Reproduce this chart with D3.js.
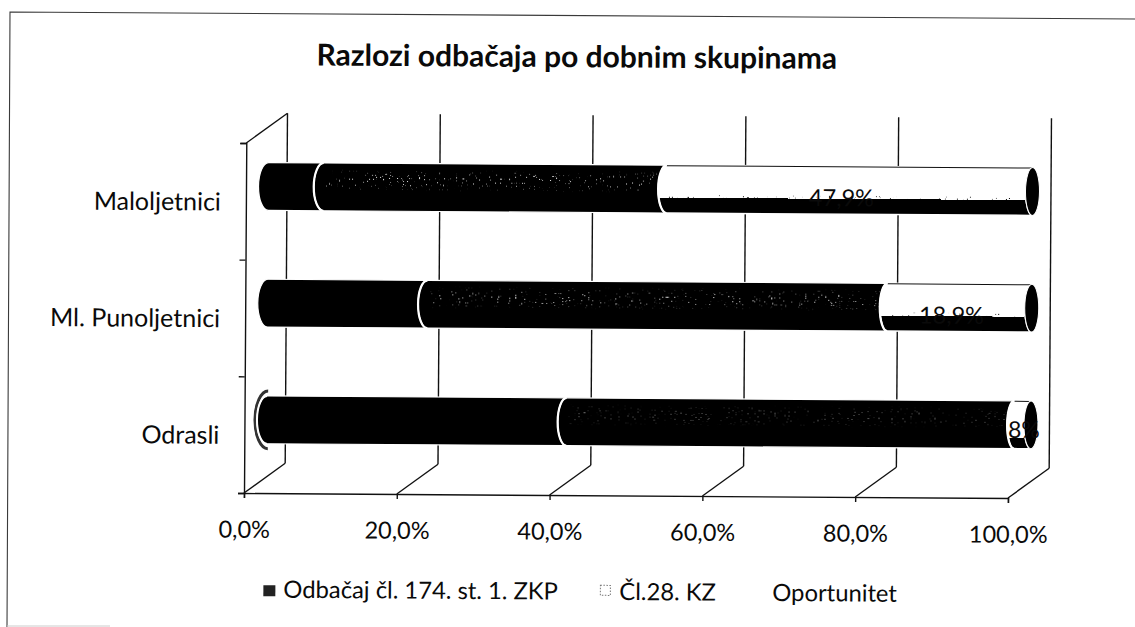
<!DOCTYPE html>
<html><head><meta charset="utf-8">
<script src="https://cdn.jsdelivr.net/npm/d3@7"></script>
<style>html,body{margin:0;background:#fff}svg{display:block}text{font-family:Lato,sans-serif;fill:#0a0a0a}</style>
</head><body><svg id="c" width="1135" height="627"></svg>
<script>
const title = "Razlozi odbačaja po dobnim skupinama";
const categories = ["Odrasli", "Ml. Punoljetnici", "Maloljetnici"];
const seriesNames = ["Odbačaj čl. 174. st. 1. ZKP", "Čl.28. KZ", "Oportunitet"];
const odbacaj = [0.392, 0.209, 0.072];
const cl28 = [0.586, 0.602, 0.449];
const oportunitet = [0.022, 0.189, 0.479];
const barLabels = ["8%", "18,9%", "47,9%"];
const xTicks = [0, 0.2, 0.4, 0.6, 0.8, 1];

const svg = d3.select("#c");
const defs = svg.append("defs");
const f = defs.append("filter").attr("id", "speck").attr("x", 0).attr("y", 0).attr("width", 1).attr("height", 1);
f.append("feTurbulence").attr("type", "fractalNoise").attr("baseFrequency", 0.7).attr("numOctaves", 2).attr("seed", 4).attr("result", "n");
f.append("feColorMatrix").attr("in", "n").attr("type", "matrix")
  .attr("values", "0 0 0 0 0  0 0 0 0 0  0 0 0 0 0  18 0 0 0 -12.6").attr("result", "m");
f.append("feComposite").attr("in", "SourceGraphic").attr("in2", "m").attr("operator", "in");
const sg = defs.append("linearGradient").attr("id", "band").attr("x1", 0).attr("x2", 0).attr("y1", 0).attr("y2", 1);
[[0, 0], [0.35, 1], [0.65, 1], [1, 0]].forEach(d => sg.append("stop").attr("offset", d[0]).attr("stop-color", "#fff").attr("stop-opacity", d[1]));
[["tube", 0.68], ["tubeShort", 0.78]].forEach(t => {
  const wb = defs.append("linearGradient").attr("id", t[0]).attr("x1", 0).attr("x2", 0).attr("y1", 0).attr("y2", 1);
  [[0, "#fff"], [t[1], "#fff"], [t[1], "#000"], [1, "#000"]].forEach(d => wb.append("stop").attr("offset", d[0]).attr("stop-color", d[1]));
});

// scan frame
svg.append("path").attr("d", "M7,627 L10,12 L1135,19").attr("fill", "none").attr("stroke", "#3a3a3a").attr("stroke-width", 1.1);
svg.append("path").attr("d", "M7,626 H110").attr("stroke", "#ccc").attr("stroke-width", 1);

// everything tilted slightly, as in the scan
const g = svg.append("g").attr("transform", "rotate(0.375,244,493)");

const depthX = 41, depthY = -30;
const x = d3.scaleLinear().domain([0, 1]).range([244, 1008]);
const yAxisScale = d3.scalePoint().domain([0, 1, 2, 3]).range([493, 143]);
const midX = v => x(v) + depthX / 2 + 2;
const band = d3.scaleBand().domain(categories).range([493 + depthY / 2, 143 + depthY / 2]);
const barH = band.bandwidth() * 0.41;
const rx = d3.scaleLinear().domain([0, 1]).range([10, 7]);

// back walls
g.append("g").selectAll("line").data(xTicks).join("line")
  .attr("x1", d => x(d) + depthX).attr("x2", d => x(d) + depthX)
  .attr("y1", 493 + depthY).attr("y2", 143 + depthY).attr("stroke", "#111").attr("stroke-width", 1.4);
g.append("g").selectAll("line").data(xTicks).join("line")
  .attr("x1", d => x(d)).attr("x2", d => x(d) + depthX)
  .attr("y1", 493).attr("y2", 493 + depthY).attr("stroke", "#111").attr("stroke-width", 1.4);
g.append("line").attr("x1", 244).attr("y1", 143).attr("x2", 244 + depthX).attr("y2", 143 + depthY).attr("stroke", "#111").attr("stroke-width", 1.4);

// axes
const fmt = d3.formatLocale({decimal: ",", thousands: ".", grouping: [3], currency: ["", ""]}).format(".1%");
const ax = g.append("g").attr("transform", "translate(0,493)")
  .call(d3.axisBottom(x).tickValues(xTicks).tickFormat(fmt).tickSize(5).tickPadding(23));
ax.selectAll("path,line").attr("stroke", "#111").attr("stroke-width", 1.4);
ax.selectAll("text").attr("font-size", 23.5).attr("font-family", "Lato").attr("fill", "#0a0a0a");
const ay = g.append("g").attr("transform", "translate(244,0)")
  .call(d3.axisLeft(yAxisScale).tickFormat("").tickSize(6));
ay.selectAll("path,line").attr("stroke", "#111").attr("stroke-width", 1.4);

g.append("g").selectAll("text").data(categories).join("text")
  .attr("x", 219).attr("y", c => band(c) + band.bandwidth() / 2 + 18)
  .attr("text-anchor", "end").attr("font-size", 25).attr("dominant-baseline", "middle").text(d => d);

// cylinder segment between two shares
function seg(a, b, cy) {
  const t = cy - barH / 2, bt = cy + barH / 2;
  const xa = midX(a), xb = midX(b);
  return `M${xa},${t}A${rx(a)},${barH / 2} 0 0 0 ${xa},${bt}L${xb},${bt}A${rx(b)},${barH / 2} 0 0 1 ${xb},${t}Z`;
}
function joint(a, cy) {
  const t = cy - barH / 2, bt = cy + barH / 2, xa = midX(a);
  return `M${xa},${t}A${rx(a)},${barH / 2} 0 0 0 ${xa},${bt}`;
}

const bars = g.append("g");
categories.forEach((c, i) => {
  const cy = band(c) + band.bandwidth() / 2;
  const a = odbacaj[i], b = a + cl28[i];
  const row = bars.append("g");
  row.append("path").attr("d", seg(b, 1, cy)).attr("fill", i === 0 ? "url(#tubeShort)" : "url(#tube)").attr("stroke", "#fff").attr("stroke-width", 1.5);
  row.append("line").attr("x1", midX(b)).attr("x2", midX(1)).attr("y1", cy - barH / 2 + 0.5).attr("y2", cy - barH / 2 + 0.5).attr("stroke", "#111").attr("stroke-width", 1);
  if (i > 0) row.append("rect").attr("x", midX(b) + 2).attr("width", midX(1) - midX(b) - 8)
    .attr("y", cy - barH / 2 + barH * 0.62).attr("height", barH * 0.08).attr("fill", "#000").attr("filter", "url(#speck)");
  row.append("path").attr("d", seg(a, b, cy)).attr("fill", "#000").attr("stroke", "#fff").attr("stroke-width", 1.2);
  row.append("rect").attr("x", midX(a) + 2).attr("width", midX(b) - midX(a) - 8)
    .attr("y", cy - barH / 2 + 6).attr("height", barH * 0.46).attr("fill", "url(#band)")
    .attr("filter", "url(#speck)").attr("opacity", i === 0 ? 0.45 : 0.9);
  row.append("path").attr("d", seg(0, a, cy)).attr("fill", "#000").attr("stroke", "#fff").attr("stroke-width", 1.2);
  row.append("path").attr("d", joint(a, cy)).attr("fill", "none").attr("stroke", "#fff").attr("stroke-width", 2.2);
  row.append("path").attr("d", joint(b, cy)).attr("fill", "none").attr("stroke", "#fff").attr("stroke-width", 2.2);
  row.append("ellipse").attr("cx", midX(1)).attr("cy", cy).attr("rx", rx(1)).attr("ry", barH / 2)
    .attr("fill", "#000").attr("stroke", "#fff").attr("stroke-width", 1);
  if (i === 0) {
    const t = cy - barH / 2 - 5, bt = cy + barH / 2 + 5, x0 = midX(0) ;
    row.append("path").attr("d", `M${x0 + 1},${t}A${rx(0) + 3},${barH / 2 + 5} 0 0 0 ${x0 + 1},${bt}`)
      .attr("fill", "none").attr("stroke", "#333").attr("stroke-width", 3);
    row.append("path").attr("d", joint(0, cy)).attr("fill", "none").attr("stroke", "#fff").attr("stroke-width", 2);
  }
  if (i === 0) {
    row.append("text").attr("x", midX(1) - 23).attr("y", cy + 13).attr("font-size", 23).text(barLabels[i]);
  } else {
    row.append("text").attr("x", midX(b + (1 - b) / 2) - 8).attr("y", cy + 16).attr("text-anchor", "middle").attr("font-size", 23.5).text(barLabels[i]);
  }
});

// title
g.append("text").attr("x", 574).attr("y", 65).attr("text-anchor", "middle")
  .attr("font-size", 30).attr("font-weight", 700).text(title);

// legend
const legendX = [284, 620, 773];
g.append("g").selectAll("text").data(seriesNames).join("text")
  .attr("x", (d, i) => legendX[i]).attr("y", 597.5).attr("font-size", 23.8).text(d => d);
g.append("rect").attr("x", 264).attr("y", 585).attr("width", 12).attr("height", 11).attr("fill", "#222");
g.append("rect").attr("x", 601).attr("y", 583).attr("width", 10).attr("height", 10).attr("fill", "#fff")
  .attr("stroke", "#777").attr("stroke-width", 1).attr("stroke-dasharray", "1.5 1.5");
</script></body></html>
